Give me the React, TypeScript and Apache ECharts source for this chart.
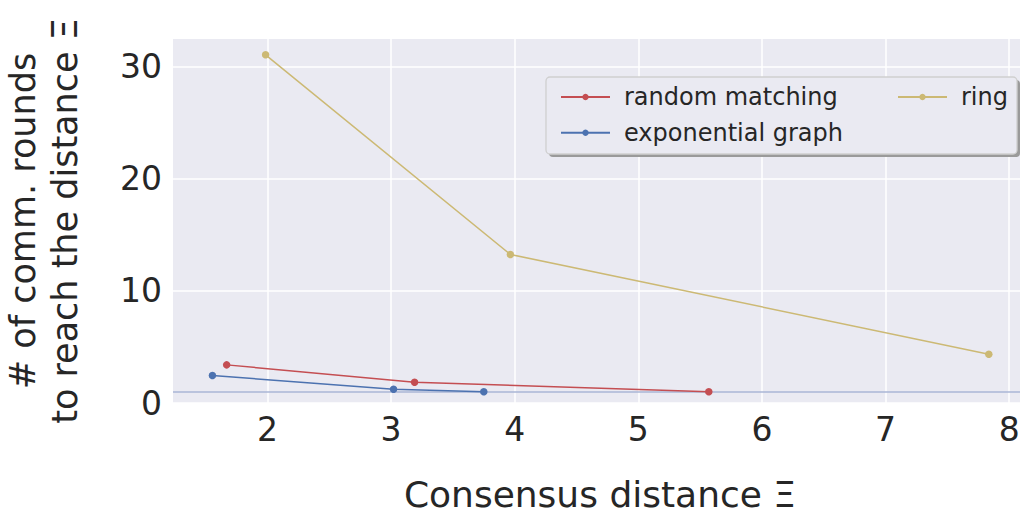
import React, { useEffect, useRef } from "react";
import * as echarts from "echarts";

const seriesNames = ["random matching", "exponential graph", "ring"];
const randomMatching: [number, number][] = [
  [1.67, 3.4],
  [3.19, 1.85],
  [5.57, 1.0],
];
const exponentialGraph: [number, number][] = [
  [1.555, 2.45],
  [3.02, 1.22],
  [3.75, 1.0],
];
const ring: [number, number][] = [
  [1.985, 31.05],
  [3.965, 13.25],
  [7.835, 4.35],
];
const xTicks = [2, 3, 4, 5, 6, 7, 8];
const yTicks = [0, 10, 20, 30];
const refLine = 1;

const colors = ["#C44E52", "#4C72B0", "#CCB974"];
const FONT = "DejaVu Sans";
const TXT = "#262626";

export default function App() {
  const ref = useRef<HTMLDivElement>(null);
  useEffect(() => {
    document.body.style.margin = "0";
    const chart = echarts.init(ref.current!, null, { renderer: "svg" });
    const mkSeries = (name: string, data: [number, number][], color: string, extra: any = {}) => ({
      name,
      type: "line",
      data,
      symbol: "circle",
      symbolSize: 7.5,
      showSymbol: true,
      itemStyle: { color },
      lineStyle: { color, width: 1.5 },
      z: 3,
      ...extra,
    });
    chart.setOption({
      animation: false,
      backgroundColor: "#ffffff",
      textStyle: { fontFamily: FONT },
      grid: {
        left: 173,
        top: 39,
        width: 854,
        height: 364,
        show: true,
        backgroundColor: "#EAEAF2",
        borderWidth: 0,
        containLabel: false,
        outerBoundsMode: "none",
      },
      xAxis: {
        type: "value",
        min: 1.236,
        max: 8.144,
        axisLine: { show: false },
        axisTick: { show: false, customValues: xTicks },
        splitLine: { show: true, lineStyle: { color: "#ffffff", width: 1.5 } },
        axisLabel: {
          customValues: xTicks,
          fontSize: 33,
          color: TXT,
          fontFamily: FONT,
          margin: 10,
        },
        name: "Consensus distance Ξ",
        nameLocation: "middle",
        nameGap: 73,
        nameTextStyle: { fontSize: 36, color: TXT, fontFamily: FONT, lineHeight: 36 },
      },
      yAxis: {
        type: "value",
        min: 0,
        max: 32.46,
        axisLine: { show: false },
        axisTick: { show: false, customValues: yTicks },
        splitLine: { show: true, lineStyle: { color: "#ffffff", width: 1.5 } },
        axisLabel: {
          customValues: yTicks,
          fontSize: 33,
          color: TXT,
          fontFamily: FONT,
          margin: 11,
        },
        name: "# of comm. rounds\nto reach the distance Ξ",
        nameLocation: "middle",
        nameRotate: 90,
        nameGap: 87,
        nameTextStyle: { fontSize: 35, color: TXT, fontFamily: FONT, lineHeight: 42 },
      },
      legend: [
        {
          data: [seriesNames[0], seriesNames[1]],
          orient: "vertical",
          left: 555,
          top: 80,
          itemWidth: 49,
          itemHeight: 8,
          itemGap: 11.7,
          textStyle: { fontSize: 24, lineHeight: 24, color: TXT, fontFamily: FONT, padding: [0, 0, 0, 9] },
          z: 10,
        },
        {
          data: [seriesNames[2]],
          orient: "vertical",
          left: 892,
          top: 80,
          itemWidth: 49,
          itemHeight: 8,
          textStyle: { fontSize: 24, lineHeight: 24, color: TXT, fontFamily: FONT, padding: [0, 0, 0, 9] },
          z: 10,
        },
      ],
      graphic: [
        {
          type: "rect",
          z: 5,
          shape: { x: 549, y: 80, width: 471, height: 77, r: 4 },
          style: { fill: "#9a9a9a" },
          silent: true,
        },
        {
          type: "rect",
          z: 6,
          shape: { x: 546, y: 77, width: 471, height: 77, r: 4 },
          style: { fill: "#EAEAF2", stroke: "#cfcfcf", lineWidth: 1.3 },
          silent: true,
        },
      ],
      series: [
        mkSeries(seriesNames[0], randomMatching, colors[0], {
          markLine: {
            silent: true,
            symbol: "none",
            label: { show: false },
            lineStyle: { color: "#AAB6D6", width: 1.5, type: "solid" },
            data: [{ yAxis: refLine }],
            z: 2,
          },
        }),
        mkSeries(seriesNames[1], exponentialGraph, colors[1]),
        mkSeries(seriesNames[2], ring, colors[2]),
      ],
    });
    return () => chart.dispose();
  }, []);
  return <div ref={ref} style={{ width: 1020, height: 513, position: "absolute", left: 0, top: 0 }} />;
}
